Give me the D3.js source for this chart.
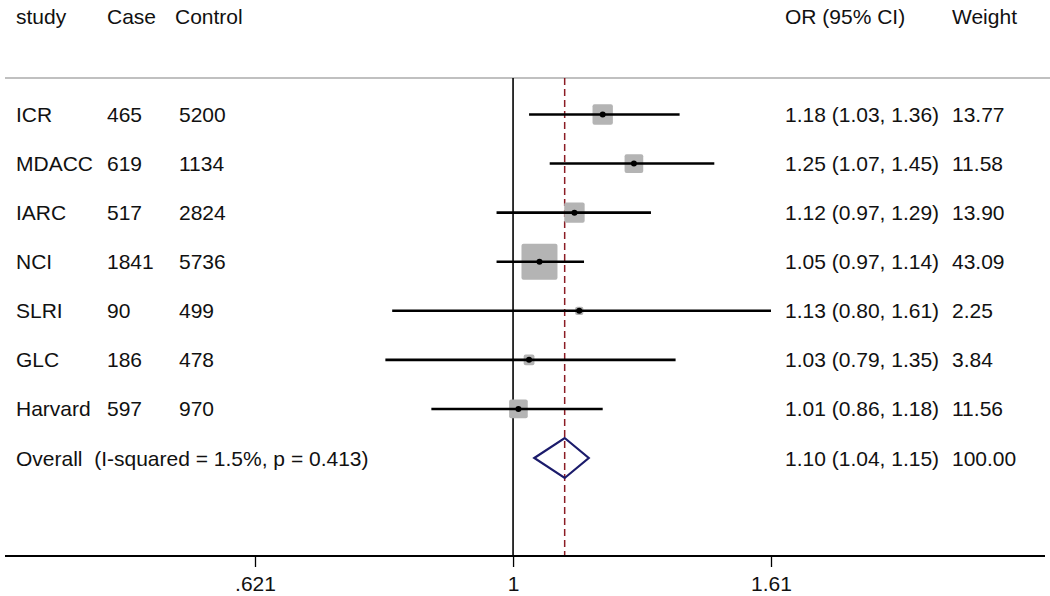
<!DOCTYPE html>
<html><head><meta charset="utf-8">
<script src="https://cdn.jsdelivr.net/npm/d3@7/dist/d3.min.js"></script>
<style>body{margin:0;background:#fff}svg{display:block}text{white-space:pre}</style>
</head><body>
<svg id="c" width="1050" height="596"></svg>
<script>
const studies = ["ICR","MDACC","IARC","NCI","SLRI","GLC","Harvard"];
const cases = [465,619,517,1841,90,186,597];
const controls = [5200,1134,2824,5736,499,478,970];
const or = [1.18,1.25,1.12,1.05,1.13,1.03,1.01];
const lo = [1.03,1.07,0.97,0.97,0.80,0.79,0.86];
const hi = [1.36,1.45,1.29,1.14,1.61,1.35,1.18];
const weights = ["13.77","11.58","13.90","43.09","2.25","3.84","11.56"];
const overall = {label:"Overall  (I-squared = 1.5%, p = 0.413)", or:1.10, lo:1.04, hi:1.15, text:"1.10 (1.04, 1.15)", weight:"100.00"};
const tickVals = [0.621, 1, 1.61];
const tickLabels = [".621","1","1.61"];
const headers = ["study","Case","Control","OR (95% CI)","Weight"];

(function(){
const svg = d3.select("#c");
const font = "'Liberation Sans', Arial, sans-serif";
const fs = 21;

const x = d3.scaleLog().domain([0.621, 1.61]).range([255, 771]);
const y = d3.scaleLinear().domain([0, 7]).range([114.5, 458]);
const sepY = 78, axisY = 556;
const colX = {study:16, case:107, control:179, or:785, weight:952};
const base = 7.5;

const hx = [16, 107, 175, 785, 952];
svg.selectAll("text.h").data(headers).join("text").attr("class","h")
  .attr("x",(d,i)=>hx[i]).attr("y",24).attr("font-family",font).attr("font-size",fs)
  .attr("fill","#111").text(d=>d);

svg.append("line").attr("x1",5).attr("x2",1050).attr("y1",sepY).attr("y2",sepY)
  .attr("stroke","#c0c0c0").attr("stroke-width",2);

svg.append("line").attr("x1",x(1)).attr("x2",x(1)).attr("y1",sepY).attr("y2",axisY)
  .attr("stroke","#000").attr("stroke-width",1.6);
svg.append("line").attr("x1",x(overall.or)).attr("x2",x(overall.or)).attr("y1",sepY).attr("y2",axisY)
  .attr("stroke","#8b1c24").attr("stroke-width",1.5).attr("stroke-dasharray","7,4");

const rows = studies.map((s,i)=>({s,i,c:cases[i],k:controls[i],or:or[i],lo:lo[i],hi:hi[i],w:weights[i]}));
const maxW = d3.max(weights, d=>+d);
const side = w => 36*Math.sqrt(w/maxW);

const g = svg.selectAll("g.row").data(rows).join("g").attr("class","row");
g.append("rect")
  .attr("x",d=>x(d.or)-side(+d.w)/2).attr("y",d=>y(d.i)-side(+d.w)/2)
  .attr("width",d=>side(+d.w)).attr("height",d=>side(+d.w))
  .attr("rx",2).attr("fill","#b4b4b4");
g.append("line").attr("x1",d=>x(d.lo)).attr("x2",d=>x(d.hi)).attr("y1",d=>y(d.i)).attr("y2",d=>y(d.i))
  .attr("stroke","#000").attr("stroke-width",2.6);
g.append("circle").attr("cx",d=>x(d.or)).attr("cy",d=>y(d.i)).attr("r",3).attr("fill","#000");

const txt = (sel, xx, f) => sel.append("text").attr("x",xx).attr("y",d=>y(d.i)+base)
  .attr("font-family",font).attr("font-size",fs).attr("fill","#111").text(f);
txt(g, colX.study, d=>d.s);
txt(g, colX.case, d=>d.c);
txt(g, colX.control, d=>d.k);
txt(g, colX.or, d=>`${d.or.toFixed(2)} (${d.lo.toFixed(2)}, ${d.hi.toFixed(2)})`);
txt(g, colX.weight, d=>d.w);

const oy = y(7);
svg.append("path")
  .attr("d",`M${x(overall.lo)},${oy} L${x(overall.or)},${oy-20} L${x(overall.hi)},${oy} L${x(overall.or)},${oy+20} Z`)
  .attr("fill","none").attr("stroke","#1b1b6b").attr("stroke-width",2.2);
const ot = [[colX.study, overall.label],[colX.or, overall.text],[colX.weight, overall.weight]];
svg.selectAll("text.o").data(ot).join("text").attr("class","o").attr("x",d=>d[0]).attr("y",oy+base)
  .attr("font-family",font).attr("font-size",fs).attr("fill","#111").text(d=>d[1]);

const axis = d3.axisBottom(x).tickValues(tickVals).tickFormat((d,i)=>tickLabels[i]).tickSize(11).tickSizeOuter(0);
const ag = svg.append("g").attr("transform",`translate(0,${axisY})`).call(axis);
ag.select(".domain").remove();
ag.append("line").attr("x1",5).attr("x2",1045).attr("y1",0).attr("y2",0).attr("stroke","#000").attr("stroke-width",2);
ag.selectAll(".tick line").attr("stroke","#000").attr("stroke-width",1.3);
ag.selectAll(".tick text").attr("font-family",font).attr("font-size",fs).attr("fill","#111").attr("dy",0).attr("y",35);
})();
</script>
</body></html>
